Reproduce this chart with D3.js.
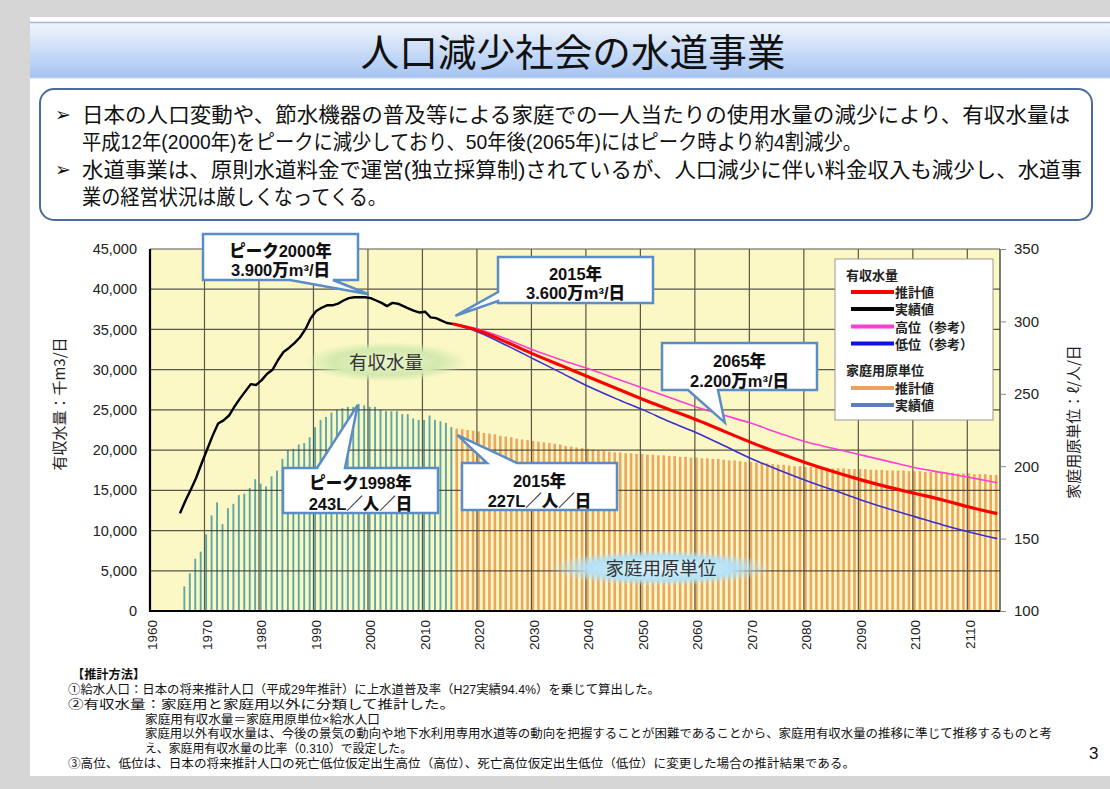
<!DOCTYPE html>
<html><head><meta charset="utf-8">
<script src="https://cdn.jsdelivr.net/npm/d3@7"></script>
<style>
body{margin:0;background:#d6d6d6;}
svg{display:block;}
</style></head>
<body>
<svg id="chart" width="1110" height="789"></svg>
<script>
// ---------------- DATA ----------------
const firstYear = 1960, lastYear = 2115;
const decadeTicks = [1960,1970,1980,1990,2000,2010,2020,2030,2040,2050,2060,2070,2080,2090,2100,2110];
const leftTicks = [0,5000,10000,15000,20000,25000,30000,35000,40000,45000];
const rightTicks = [100,150,200,250,300,350];

// 有収水量 実績値 (千m3/日), 1965-2015
const supplyActualStart = 1965;
const supplyActual = [12150,13700,15100,16600,18400,
  20100,21800,23300,23700,24300, 25400,26400,27300,28200,28100,
  28700,29500,30000,31200,32200, 32700,33300,34000,35000,36400,
  37300,37700,38000,38000,38200, 38600,38900,39000,39000,39000,
  38900,38600,38300,37900,38300, 38200,37900,37600,37300,37100,
  37200,36500,36400,36100,35800, 35700];

// 有収水量 推計 (千m3/日)
const projYears = [2015,2020,2025,2030,2035,2040,2045,2050,2055,2060,2065,2070,2075,2080,2085,2090,2095,2100,2105,2110,2115];
const projMid  = [35700,34800,33400,31900,30500,29100,27700,26300,25000,23700,22300,20900,19600,18400,17300,16300,15400,14600,13800,12900,12100];
const projHigh = [35700,35000,33800,32400,31200,30100,28900,27700,26500,25300,24300,23300,22100,21000,20200,19400,18600,17800,17200,16600,15950];
const projLow  = [35700,34600,33000,31300,29600,27900,26400,25000,23500,22100,20500,18900,17500,16200,15000,13800,12700,11700,10700,9800,9000];

// 家庭用原単位 実績値 (L/人/日), 1966-2015
const unitActualStart = 1966;
const unitActual = [117,126,136,141,153, 166,175,160,171,174, 180,181,185,191,188,
  186,193,197,205,211, 212,215,216,220,227, 232,234,237,239,240,
  241,241,243,242,241, 241,239,238,238,238, 236,236,233,232,232,
  235,232,231,230,227];

// 家庭用原単位 推計値 (L/人/日), 2016-2115
const unitProjStart = 2016;
const unitProj = [226,225.5,225,224.5,224, 223,222.5,222,221,220.5, 220,219,218.5,218,217.5,
  217,216.5,216,215.5,215, 214,213.5,213,212.5,212, 211.5,211,210.5,210,209.5,
  209.5,209,209,208.5,208.5, 208,208,207.5,207.5,207, 207,206.5,206.5,206,206,
  205.5,205.5,205,205,204.5, 204,204,203.5,203,203, 202.5,202,202,201.5,201,
  201,200.5,200,200,199.5, 199.5,199,199,199,198.5, 198.5,198.5,198,198,198,
  198,197.5,197.5,197.5,197, 197,197,197,196.5,196.5, 196.5,196,196,196,195.5,
  195.5,195.5,195,195,195, 194.5,194.5,194.5,194,194];

const bulletLines = [
  "日本の人口変動や、節水機器の普及等による家庭での一人当たりの使用水量の減少により、有収水量は",
  "平成12年(2000年)をピークに減少しており、50年後(2065年)にはピーク時より約4割減少。",
  "水道事業は、原則水道料金で運営(独立採算制)されているが、人口減少に伴い料金収入も減少し、水道事",
  "業の経営状況は厳しくなってくる。"
];
const noteLines = [
  "【推計方法】",
  "①給水人口：日本の将来推計人口（平成29年推計）に上水道普及率（H27実績94.4%）を乗じて算出した。",
  "②有収水量：家庭用と家庭用以外に分類して推計した。",
  "家庭用有収水量＝家庭用原単位×給水人口",
  "家庭用以外有収水量は、今後の景気の動向や地下水利用専用水道等の動向を把握することが困難であることから、家庭用有収水量の推移に準じて推移するものと考",
  "え、家庭用有収水量の比率（0.310）で設定した。",
  "③高位、低位は、日本の将来推計人口の死亡低位仮定出生高位（高位）、死亡高位仮定出生低位（低位）に変更した場合の推計結果である。"
];

// ---------------- DRAW ----------------
const svg = d3.select("#chart");
const JP = "'Noto Sans CJK JP','Noto Sans',sans-serif";
const JPC = "'Liberation Sans','Noto Sans CJK JP',sans-serif"; // compact line metrics
const NUM = "'Liberation Sans',Arial,sans-serif";
const defs = svg.append("defs");

// page
svg.append("rect").attr("width",1110).attr("height",789).attr("fill","#d6d6d6");
svg.append("rect").attr("x",30).attr("y",17).attr("width",1080).attr("height",759).attr("fill","#ffffff");

// title band
const tg = defs.append("linearGradient").attr("id","titleGrad").attr("x1",0).attr("y1",0).attr("x2",0).attr("y2",1);
tg.append("stop").attr("offset","0%").attr("stop-color","#f2f6fd");
tg.append("stop").attr("offset","100%").attr("stop-color","#a4c4f2");
svg.append("rect").attr("x",30).attr("y",22).attr("width",1080).attr("height",56).attr("fill","url(#titleGrad)");
svg.append("line").attr("x1",30).attr("x2",1110).attr("y1",22.5).attr("y2",22.5).attr("stroke","#9fb6d8").attr("stroke-width",1.5);
svg.append("line").attr("x1",30).attr("x2",1110).attr("y1",78).attr("y2",78).attr("stroke","#c6d7ef").attr("stroke-width",1);
svg.append("text").attr("x",573).attr("y",66).attr("text-anchor","middle")
  .attr("font-family",JP).attr("font-size",38).attr("fill","#111")
  .attr("textLength",425).attr("lengthAdjust","spacingAndGlyphs")
  .text("人口減少社会の水道事業");

// bullet box
svg.append("rect").attr("x",40).attr("y",89).attr("width",1052).attr("height",131).attr("rx",14)
  .attr("fill","#fff").attr("stroke","#4a6d9c").attr("stroke-width",2);
const bulletY = [122,149,177,204];
const bulletW = [988,780,1000,305];
bulletLines.forEach((t,i)=>{
  svg.append("text").attr("x",82).attr("y",bulletY[i]).attr("font-family",JPC).attr("font-size",21).attr("fill","#111")
    .attr("textLength",bulletW[i]).attr("lengthAdjust","spacingAndGlyphs").text(t);
});
[0,2].forEach(i=>{
  svg.append("text").attr("x",55).attr("y",bulletY[i]-1).attr("font-family","'DejaVu Sans',sans-serif")
    .attr("font-size",19).attr("fill","#111").text("➢");
});

// ---- chart geometry ----
const L=150, R=1000, T=249, B=611;
const years = d3.range(firstYear, lastYear+1);
const x = d3.scaleBand().domain(years).range([L,R]).padding(0);
const bw = x.bandwidth();
const xc = yr => x(yr) + bw/2;
const yL = d3.scaleLinear().domain([0,45000]).range([B,T]);
const yR = d3.scaleLinear().domain([100,350]).range([B,T]);

svg.append("rect").attr("x",L).attr("y",T).attr("width",R-L).attr("height",B-T).attr("fill","#fbf8c6");

// bars: actual (teal) and projected (orange)
const unitActualData = unitActual.map((v,i)=>({year:unitActualStart+i, v}));
const unitProjData = unitProj.map((v,i)=>({year:unitProjStart+i, v}));
svg.append("g").selectAll("rect").data(unitActualData).join("rect")
  .attr("x",d=>x(d.year)+0.7).attr("width",1.9)
  .attr("y",d=>yR(d.v)).attr("height",d=>B-yR(d.v)).attr("fill","#5ea7a6");
svg.append("g").selectAll("rect").data(unitProjData).join("rect")
  .attr("x",d=>x(d.year)+0.3).attr("width",2.6)
  .attr("y",d=>yR(d.v)).attr("height",d=>B-yR(d.v)).attr("fill","#eba660");

// gridlines
const grid = svg.append("g").attr("stroke","#3c3c34").attr("stroke-width",1.2).attr("opacity",0.85);
decadeTicks.forEach(d=>{ if(d>firstYear) grid.append("line").attr("x1",x(d)).attr("x2",x(d)).attr("y1",T).attr("y2",B); });
leftTicks.forEach(v=>{ grid.append("line").attr("x1",L).attr("x2",R).attr("y1",yL(v)).attr("y2",yL(v)); });
svg.append("line").attr("x1",R).attr("x2",R).attr("y1",T).attr("y2",B).attr("stroke","#333").attr("stroke-width",1.3);

// ellipse labels
function ellipseLabel(id, cx, cy, rx, ry, c0, c1, label){
  const g = defs.append("radialGradient").attr("id",id);
  g.append("stop").attr("offset","0%").attr("stop-color",c0).attr("stop-opacity",1);
  g.append("stop").attr("offset","65%").attr("stop-color",c1).attr("stop-opacity",1);
  g.append("stop").attr("offset","100%").attr("stop-color",c1).attr("stop-opacity",0);
  svg.append("ellipse").attr("cx",cx).attr("cy",cy).attr("rx",rx).attr("ry",ry).attr("fill",`url(#${id})`);
  svg.append("text").attr("x",cx).attr("y",cy+6.5).attr("text-anchor","middle").attr("font-family",JP)
    .attr("font-size",18.5).attr("fill","#333").text(label);
}
ellipseLabel("gGreen",386,362,82,20,"#e9f3cf","#d3e9ad","有収水量");
ellipseLabel("gBlue",661,568,112,18,"#dff3fb","#b4e1f5","家庭用原単位");

// lines
const line = d3.line().x(d=>xc(d.year)).y(d=>yL(d.v));
const smooth = d3.line().x(d=>xc(d.year)).y(d=>yL(d.v)).curve(d3.curveMonotoneX);
const actualData = supplyActual.map((v,i)=>({year:supplyActualStart+i, v}));
const mk = arr => arr.map((v,i)=>({year:projYears[i], v}));
svg.append("path").datum(mk(projHigh)).attr("d",smooth).attr("fill","none").attr("stroke","#ff3fd2").attr("stroke-width",1.6);
svg.append("path").datum(mk(projLow)).attr("d",smooth).attr("fill","none").attr("stroke","#3a2fd0").attr("stroke-width",1.6);
svg.append("path").datum(mk(projMid)).attr("d",smooth).attr("fill","none").attr("stroke","#ff0000").attr("stroke-width",3.2);
svg.append("path").datum(actualData).attr("d",line).attr("fill","none").attr("stroke","#000").attr("stroke-width",2.4).attr("stroke-linejoin","round");

// axes
const xAxis = svg.append("g").attr("transform",`translate(0,${B})`)
  .call(d3.axisBottom(x).tickValues(decadeTicks).tickSize(0).tickFormat(d3.format("d")));
xAxis.select(".domain").remove();
xAxis.selectAll("text").attr("transform","rotate(-90)").attr("text-anchor","end")
  .attr("x",-9).attr("y",0).attr("dy","0.35em").attr("font-family",NUM).attr("font-size",13.5).attr("fill","#222");

const yAxisL = svg.append("g").attr("transform",`translate(${L},0)`)
  .call(d3.axisLeft(yL).tickValues(leftTicks).tickSize(0).tickPadding(13).tickFormat(d3.format(",")));
yAxisL.select(".domain").remove();
yAxisL.selectAll("text").attr("font-family",NUM).attr("font-size",14.5).attr("fill","#222");

const yAxisR = svg.append("g").attr("transform",`translate(${R},0)`)
  .call(d3.axisRight(yR).tickValues(rightTicks).tickSize(6).tickPadding(8));
yAxisR.select(".domain").remove();
yAxisR.selectAll("line").attr("stroke","#888");
yAxisR.selectAll("text").attr("font-family",NUM).attr("font-size",15).attr("fill","#222");

// axis frame (left & bottom)
svg.append("line").attr("x1",L).attr("x2",L).attr("y1",T).attr("y2",B+1).attr("stroke","#000").attr("stroke-width",2.2);
svg.append("line").attr("x1",L-1).attr("x2",R).attr("y1",B).attr("y2",B).attr("stroke","#000").attr("stroke-width",2.2);

// axis titles
svg.append("text").attr("transform","translate(65,404) rotate(-90)").attr("text-anchor","middle")
  .attr("font-family",JP).attr("font-size",15).attr("fill","#222").text("有収水量：千m3/日");
svg.append("text").attr("transform","translate(1079,422) rotate(-90)").attr("text-anchor","middle")
  .attr("font-family",JP).attr("font-size",15).attr("fill","#222").text("家庭用原単位：ℓ/人/日");

// legend
const lg = svg.append("g");
lg.append("rect").attr("x",835).attr("y",259).attr("width",158).attr("height",161).attr("fill","#fff").attr("stroke","#999").attr("stroke-width",1);
const legendItems = [
  {y:275, head:"有収水量"},
  {y:292, c:"#ff0000", t:"推計値"},
  {y:309, c:"#000000", t:"実績値"},
  {y:326.5, c:"#ff3fd2", t:"高位（参考）"},
  {y:343.5, c:"#1010e0", t:"低位（参考）"},
  {y:370, head:"家庭用原単位"},
  {y:388, c:"#eea060", t:"推計値"},
  {y:405, c:"#5b7fba", t:"実績値"}
];
legendItems.forEach(it=>{
  if(it.head){
    lg.append("text").attr("x",846).attr("y",it.y+5).attr("font-family",JPC).attr("font-weight",700)
      .attr("font-size",13).attr("fill","#222").text(it.head);
  } else {
    lg.append("line").attr("x1",851).attr("x2",894).attr("y1",it.y).attr("y2",it.y).attr("stroke",it.c).attr("stroke-width",4);
    lg.append("text").attr("x",895).attr("y",it.y+5).attr("font-family",JPC).attr("font-weight",700)
      .attr("font-size",13).attr("fill","#222").text(it.t);
  }
});

// callouts
function calloutPath(c){
  const {bx,by,w,h,edge,base,tip} = c;
  const [a,b] = base;
  if(edge==="bottom")
    return `M${bx},${by}H${bx+w}V${by+h}H${b}L${tip[0]},${tip[1]}L${a},${by+h}H${bx}Z`;
  if(edge==="top")
    return `M${bx},${by}H${a}L${tip[0]},${tip[1]}L${b},${by}H${bx+w}V${by+h}H${bx}Z`;
  // left
  return `M${bx},${by}H${bx+w}V${by+h}H${bx}V${b}L${tip[0]},${tip[1]}L${bx},${a}Z`;
}
const callouts = [
  {bx:203,by:234,w:155,h:46,edge:"bottom",base:[290,333],tip:[xc(2000)-2,yL(39000)-3],l1:"ピーク2000年",l2:"3.900万m³/日",b1:256.5,b2:276},
  {bx:498,by:257,w:155,h:46,edge:"left",base:[292,301],tip:[xc(2015)+3,yL(35700)-8],l1:"2015年",l2:"3.600万m³/日",b1:279.5,b2:299},
  {bx:662,by:343,w:155,h:47,edge:"bottom",base:[688,718],tip:[xc(2065),yL(22300)-9],l1:"2065年",l2:"2.200万m³/日",b1:366.5,b2:386.5},
  {bx:283,by:468,w:155,h:45,edge:"top",base:[317,345],tip:[xc(1998)-2,yR(243)+1],l1:"ピーク1998年",l2:"243L／人／日",b1:489,b2:510},
  {bx:462,by:463,w:155,h:47,edge:"top",base:[487,517],tip:[xc(2015)+5,yR(227)+8],l1:"2015年",l2:"227L／人／日",b1:486.5,b2:507}
];
callouts.forEach(c=>{
  svg.append("path").attr("d",calloutPath(c)).attr("fill","#fff").attr("stroke","#5a8cc6").attr("stroke-width",2.5).attr("stroke-linejoin","miter");
  [[c.l1,c.b1],[c.l2,c.b2]].forEach(([t,yy])=>{
    svg.append("text").attr("x",c.bx+c.w/2).attr("y",yy).attr("text-anchor","middle")
      .attr("font-family",JPC).attr("font-weight",900).attr("font-size",16.5).attr("fill","#111").text(t);
  });
});

// notes
const noteX = [72,68,68,145,145,145,68];
const noteY = [679,694,709,723.5,738,752.5,767.5];
const noteW = [null,592,387,235,907,267,787];
noteLines.forEach((t,i)=>{
  const tx = svg.append("text").attr("x",noteX[i]).attr("y",noteY[i]).attr("font-family",JPC)
    .attr("font-size",12.2).attr("fill","#111").attr("font-weight", i===0?700:400).text(t);
  if(noteW[i]) tx.attr("textLength",noteW[i]).attr("lengthAdjust","spacingAndGlyphs");
});
svg.append("text").attr("x",1089).attr("y",759).attr("font-family",NUM).attr("font-size",17).attr("fill","#111").text("3");
</script>
</body></html>
